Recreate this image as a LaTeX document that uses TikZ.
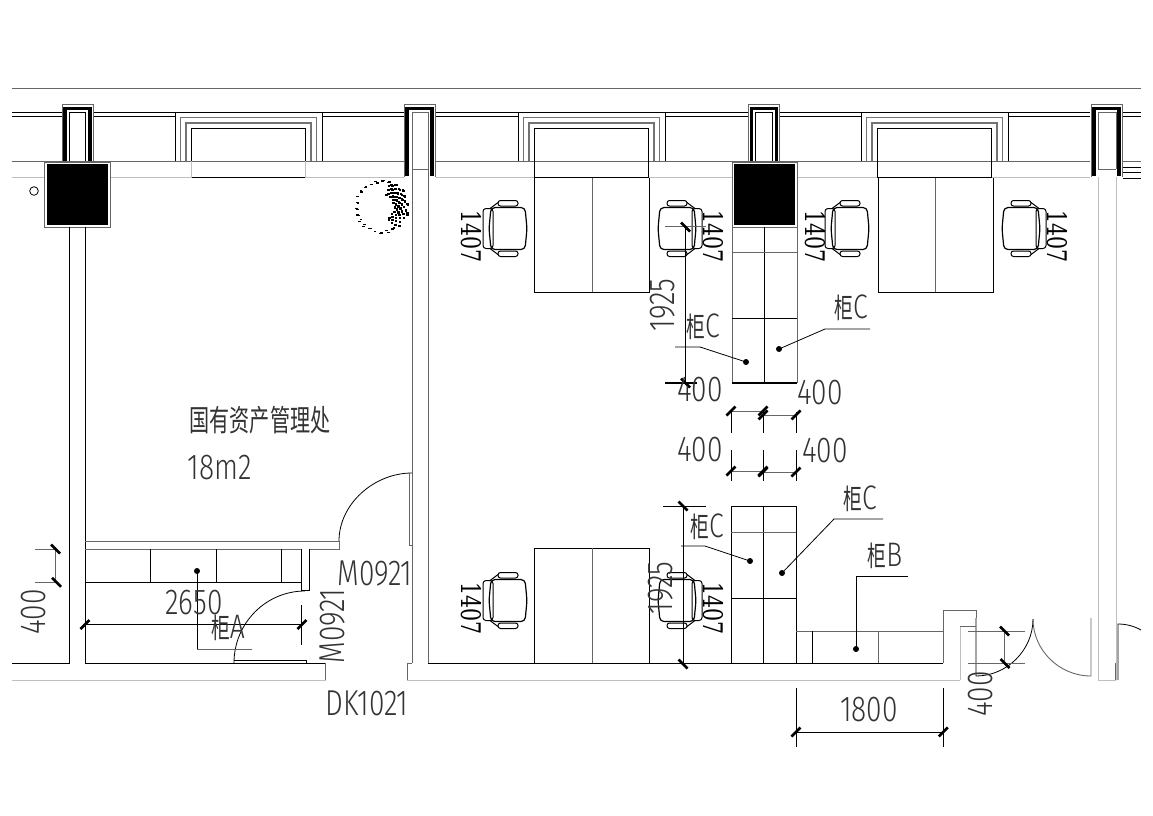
\documentclass[tikz,border=0pt]{standalone}
\usepackage{fontspec}
\newfontfamily\cadfont[FakeStretch=.78]{Fira Sans Light}
\newfontfamily\chairfont[FakeStretch=.76]{DejaVu Serif}
\newfontfamily\cjk[FakeStretch=.67]{Noto Sans CJK SC}
\newcommand{\cabinet}[1]{柜{\cadfont\fontsize{34}{34}\selectfont #1}}
\tikzset{
	wall/.style={black, line width=.8pt}, % Lineas negras finas
	soft/.style={black!60, line width=.9pt}, % Lineas grises
	faint/.style={black!25, line width=.9pt}, % Lineas claras
	bay/.style={black!55, line width=1.1pt},
	heavy/.style={black, line width=1.3pt},
	tick/.style={black, line width=2.6pt},
	dotmark/.style={circle, fill=black, inner sep=0pt, minimum size=6pt},
	cad/.style={inner sep=0pt, text=black!80, font=\cadfont\fontsize{36}{36}\selectfont},
	cname/.style={inner sep=0pt, text=black!80, font=\cjk\fontsize{28}{28}\selectfont},
	seatno/.style={inner sep=0pt, rotate=-90, font=\chairfont\fontsize{27}{27}\selectfont},
	pics/chair/.style={code={
		\draw[wall, line width=1pt, rounded corners=3pt] (-22,-20) rectangle (-12,20); % Respaldo
		\draw[wall, line width=1.2pt, rounded corners=4pt] (-14,-21) -- (20,-21) -- (22,0) -- (20,21) -- (-14,21) -- (-16,0) -- cycle; % Asiento
		\draw[wall, line width=1pt, rounded corners=2.5pt] (-7,-28) rectangle (13,-22.5);
		\draw[wall, line width=1pt, rounded corners=2.5pt] (-7,22.5) rectangle (13,28);
		\draw[wall, line width=1pt] (-15,-20) -- (-7,-26) (-15,20) -- (-7,26);
	}}
}

\begin{document}
\begin{tikzpicture}[x=1pt, y=-1pt]
	\useasboundingbox (0,0) rectangle (1153,815);

	% muro superior
	\draw[soft] (12,88) -- (1141,88);
	\foreach \a/\b in {12/62, 93/175, 322/404, 435/518, 665/748, 780/862, 1008/1090, 1123/1141}
		\draw[wall] (\a,112) -- (\b,112) (\a,116) -- (\b,116);
	\draw[soft] (12,161) -- (404,161) (436,161) -- (1090,161);
	\draw[faint] (12,177.5) -- (404,177.5) (436,177.5) -- (1090,177.5);
	\draw[soft] (1123,161) -- (1141,161);
	\draw[wall] (1123,167) -- (1141,167) (1123,172.5) -- (1141,172.5) (1123,178) -- (1141,178);

	% ventanas
	\foreach \d in {0,343,686}{
		\draw[wall] (175+\d,161) -- (175+\d,112) -- (322+\d,112) -- (322+\d,161);
		\draw[bay] (180.5+\d,161) -- (180.5+\d,117.5) -- (316.5+\d,117.5) -- (316.5+\d,161);
		\draw[bay] (186+\d,161) -- (186+\d,123) -- (311+\d,123) -- (311+\d,161);
		\draw[wall] (191.5+\d,161) -- (191.5+\d,128.5) -- (305.5+\d,128.5) -- (305.5+\d,161);
		\draw[heavy] (191.5+\d,177.5) -- (305.5+\d,177.5);
	}
	\draw[faint] (191.5,161) -- (191.5,177.5) (305.5,161) -- (305.5,177.5);
	\draw[wall] (534.5,161) -- (534.5,177.5) (648.5,161) -- (648.5,177.5);
	\draw[wall] (877.5,161) -- (877.5,177.5) (991.5,161) -- (991.5,177.5);

	% pilares
	\foreach \cx/\low in {77.5/161, 419.5/176, 764/161, 1106.5/176}{
		\draw[soft] (\cx-15.5,\low+1) -- (\cx-15.5,104) -- (\cx+15.5,104) -- (\cx+15.5,\low+1);
		\draw[black, line width=3.6pt] (\cx-12.5,\low) -- (\cx-12.5,108.5) -- (\cx+12.5,108.5) -- (\cx+12.5,\low);
	}
	\draw[wall] (69,161) -- (69,112) -- (85,112) -- (85,161);
	\draw[wall] (755.5,161) -- (755.5,112) -- (772.5,112) -- (772.5,161);
	\draw[soft] (412,663) -- (412,112) -- (428,112) -- (428,663);
	\draw[soft] (412,169) -- (428,169);
	\draw[faint] (1098,680) -- (1098,177);
	\draw[faint] (1116,680) -- (1116,177);
	\draw[faint] (1098,680) -- (1116,680);
	\draw[soft] (1098,169) -- (1098,112) -- (1116,112) -- (1116,169) (1098,169) -- (1116,169);
	\draw[soft, fill=white] (44.5,162) rectangle (110,227);
	\fill[black] (46.5,163.5) rectangle (108,225);
	\draw[soft, fill=white] (732,162) rectangle (797,227);
	\fill[black] (733.5,163.5) rectangle (794.5,225);
	\draw[wall] (34,191) circle (4.3);

	% muros del despacho izquierdo
	\draw[wall] (69,227) -- (69,663) -- (12,663);
	\draw[wall] (85,227) -- (85,663) -- (325.5,663);
	\draw[faint] (12,680) -- (325.5,680);
	\draw[soft] (325.5,663) -- (325.5,680);
	\draw[soft] (407,680) -- (407,663) -- (412,663);
	\draw[faint] (407,680) -- (960,680);
	\draw[wall] (428,663) -- (943,663);
	\draw[soft] (85,541) -- (339,541);
	\draw[soft] (85,549) -- (301.5,549) (309,549) -- (339,549) -- (339,541);
	\draw[wall] (301.5,549) -- (301.5,590) -- (309,590) -- (309,549);

	% puertas
	\draw[wall] (305,591) .. controls (266,591) and (234,623) .. (234,663);
	\draw[wall] (234,660.5) -- (306,660.5) -- (306,663);
	\draw[wall] (412,473) .. controls (374,473) and (339,504) .. (339,541);
	\draw[soft] (409,473) -- (409,545) -- (412,545);
	\draw[wall] (976,618) -- (976,676) .. controls (1007,676) and (1033,650) .. (1033,619);
	\draw[soft] (1033,619) .. controls (1033,650) and (1059,676) .. (1091,676) -- (1091,618);
	\draw[wall] (1118,680) -- (1118,624) .. controls (1126,624) and (1134,626) .. (1141,630);
	\draw[soft] (1115.5,663) -- (1115.5,680);
	\draw[soft] (943,663) -- (943,610) -- (976,610) -- (976,618);
	\draw[faint] (960,680) -- (960,626.5);
	\draw[soft] (960,626.5) -- (976,626.5);

	% mesas
	\foreach \d in {534.5,878}{
		\draw[wall] (\d,178) -- (\d,292) -- (\d+115,292) -- (\d+115,178);
		\draw[soft] (\d+57.5,178) -- (\d+57.5,292);
	}
	\draw[wall] (534.5,663) -- (534.5,548) -- (649.5,548) -- (649.5,663);
	\draw[soft] (592,548) -- (592,663);

	% armarios
	\draw[soft] (732,227) -- (732,383);
	\draw[soft] (797,227) -- (797,383);
	\draw[heavy] (732,383) -- (797,383);
	\draw[wall] (764,227) -- (764,383);
	\draw[soft] (732,252.7) -- (797,252.7);
	\draw[wall] (732,318) -- (797,318);
	\draw[wall] (731,506) rectangle (796,663);
	\draw[wall] (763,506) -- (763,663);
	\draw[soft] (731,532.7) -- (796,532.7);
	\draw[wall] (731,598) -- (796,598);
	\draw[soft] (796,631) -- (943,631);
	\draw[wall] (812.5,631) -- (812.5,663);
	\draw[soft] (878,631) -- (878,663);
	\draw[wall] (85,582.3) -- (301.5,582.3);
	\foreach \x in {150.5,216.5,281.5}
		\draw[wall] (\x,549) -- (\x,582.3);

	% planta
	\foreach \k in {1,...,90}{
		\pgfmathsetmacro{\ang}{mod(\k*137.5,135)-70}
		\pgfmathsetmacro{\rr}{27-15*mod(\k*0.618,1)}
		\fill[black] ({381.5+\rr*cos(\ang)-1},{208.5+\rr*sin(\ang)-1}) rectangle +(2.4,-2);
	}
	\foreach \k in {1,...,30}{
		\pgfmathsetmacro{\ang}{62+mod(\k*97.3,236)}
		\pgfmathsetmacro{\rr}{24+3*mod(\k*0.37,1)}
		\fill[black] ({381.5+\rr*cos(\ang)-1},{208.5+\rr*sin(\ang)-1}) rectangle +(2.8,-1.4);
	}

	% sillas
	\foreach \x/\y in {505/228.5, 847/228.5, 505/600.5}
		\pic at (\x,\y) {chair};
	\foreach \x/\y in {680/228.5, 1024/228.5, 680/600.5}
		\pic[xscale=-1] at (\x,\y) {chair};

	\node[seatno] (n1) at (471.5,236.5) {1407};
	\node[seatno] (n2) at (713,236.5) {1407};
	\node[seatno] (n3) at (815,236.5) {1407};
	\node[seatno] (n4) at (1057,236.5) {1407};
	\node[seatno] (n5) at (471.5,608.5) {1407};
	\node[seatno] (n6) at (713,608.5) {1407};

	% cotas
	\draw[soft] (35,549) -- (55,549) (35,582.3) -- (55,582.3) (55,549) -- (55,582.3);
	\draw[wall] (85,624.5) -- (302,624.5);
	\draw[wall] (301.5,605) -- (301.5,645);
	\draw[wall] (685.5,227) -- (685.5,383);
	\draw[soft] (665,226.7) -- (706,226.7);
	\draw[heavy] (665,383) -- (697,383);
	\draw[wall] (683,506) -- (683,663);
	\draw[wall] (663,506) -- (706,506);
	\draw[wall] (796,688) -- (796,747) (943.3,688) -- (943.3,747);
	\draw[wall] (796,732) -- (943.3,732);
	\draw[soft] (968,631) -- (1025,631) (968,663.5) -- (1025,663.5);
	\draw[soft] (1004,631) -- (1004,663.5);
	\draw[soft] (731,411) -- (763,411) (763,415) -- (796,415);
	\draw[soft] (731,471) -- (763,471) (763,472) -- (796,472);
	\foreach \x in {731,763,796}{
		\draw[wall] (\x,412) -- (\x,433);
		\draw[wall] (\x,450) -- (\x,481);
	}
	\foreach \x/\y in {85/624.5, 302/624.5, 796/732, 943.3/732, 731/411, 763/411, 763/415, 796/415, 731/471, 763/471, 763/472, 796/472}
		\draw[tick] (\x-4.5,\y+4.5) -- (\x+4.5,\y-4.5);
	\foreach \x/\y in {55.5/549, 56.5/582.3, 685.5/227, 685.5/383, 683/506, 683/664, 1004.5/631, 1005/663.5}
		\draw[tick] (\x-4.5,\y-4.5) -- (\x+4.5,\y+4.5);

	% llamadas
	\node[dotmark] (dA) at (197,571) {};
	\node[dotmark] (dC1) at (746,362) {};
	\node[dotmark] (dC2) at (779,349) {};
	\node[dotmark] (dC3) at (750,561) {};
	\node[dotmark] (dC4) at (782,573) {};
	\node[dotmark] (dB) at (856,649) {};
	\draw[wall] (dA.center) -- (197,649);
	\draw[soft] (197,649) -- (252,649);
	\draw[wall] (675,347) -- (700,347) -- (dC1.center);
	\draw[wall] (870,329) -- (825,329) -- (dC2.center);
	\draw[wall] (681,546) -- (705,546) -- (dC3.center);
	\draw[wall] (883,519) -- (834,519) -- (dC4.center);
	\draw[wall] (908,576) -- (856,576) -- (dB.center);

	% textos
	\node[cad, rotate=90] (h1) at (33.5,612) {400};
	\node[cad] (w1) at (194,602.5) {2650};
	\node[cad] (m1) at (375,573) {M0921};
	\node[cad, rotate=90] (m2) at (332.5,626) {M0921};
	\node[cad] (dk) at (367,703) {DK1021};
	\node[cad, rotate=90] (u1) at (663,305) {1925};
	\node[cad, rotate=90] (u2) at (660.5,588) {1925};
	\node[cad] (a1) at (700,389.5) {400};
	\node[cad] (a2) at (820,392.5) {400};
	\node[cad] (a3) at (700,449.5) {400};
	\node[cad] (a4) at (825,450.5) {400};
	\node[cad] (b1) at (869,710) {1800};
	\node[cad, rotate=90] (h2) at (981,694) {400};
	\node[cad] (area) at (220,468) {18m2};
	\node[cname, font=\cjk\fontsize{30}{30}\selectfont] (office) at (260,420) {国有资产管理处};
	\node[cname] (cA) at (228,628) {\cabinet{A}};
	\node[cname] (cC1) at (703,327) {\cabinet{C}};
	\node[cname] (cC2) at (851,308) {\cabinet{C}};
	\node[cname] (cC3) at (707,527) {\cabinet{C}};
	\node[cname] (cC4) at (860,499) {\cabinet{C}};
	\node[cname] (cB) at (885,556) {\cabinet{B}};
\end{tikzpicture}
\end{document}
